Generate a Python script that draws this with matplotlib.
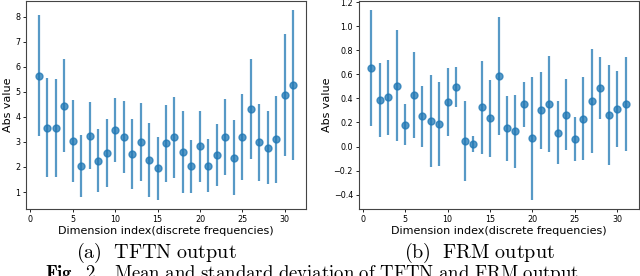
#!/usr/bin/env python3
"""Mean/std of TFTN and FRM outputs per dimension index."""

import matplotlib

matplotlib.use("Agg")
import matplotlib.pyplot as plt

dims = list(range(1, 32))

tftn_mean = [5.65, 3.57, 3.57, 4.45, 3.05, 2.05, 3.25, 2.25, 2.57, 3.47, 3.20,
             2.52, 3.00, 2.28, 1.95, 2.95, 3.18, 2.60, 2.02, 2.82, 2.05, 2.47,
             3.20, 2.37, 3.20, 4.32, 2.98, 2.77, 3.10, 4.87, 5.27]
tftn_std = [2.40, 1.97, 1.95, 1.85, 1.63, 1.24, 1.35, 1.25, 1.35, 1.28, 1.45,
            1.38, 1.57, 1.48, 1.25, 1.53, 1.60, 1.65, 1.05, 1.41, 1.05, 1.24,
            1.50, 1.50, 1.70, 2.00, 1.53, 1.45, 1.72, 2.45, 2.98]

frm_mean = [0.65, 0.385, 0.41, 0.505, 0.18, 0.43, 0.25, 0.21, 0.185, 0.37, 0.495,
            0.047, 0.02, 0.325, 0.235, 0.585, 0.15, 0.125, 0.35, 0.07, 0.30,
            0.355, 0.115, 0.265, 0.063, 0.23, 0.38, 0.485, 0.26, 0.31, 0.35]
frm_std = [0.48, 0.305, 0.31, 0.46, 0.17, 0.355, 0.25, 0.38, 0.35, 0.28, 0.165,
           0.335, 0.068, 0.385, 0.32, 0.49, 0.27, 0.30, 0.19, 0.51, 0.32,
           0.40, 0.26, 0.295, 0.18, 0.345, 0.43, 0.255, 0.415, 0.315, 0.39]

xlabel = "Dimension index(discrete frequencies)"
ylabel = "Abs value"
captions = [r"$\mathrm{(a)\ \ TFTN\ output}$", r"$\mathrm{(b)\ \ FRM\ output}$"]
fig_caption = r"$\mathbf{Fig.\ 2.}$" + r"$\mathrm{\ \ Mean\ and\ standard\ deviation\ of\ TFTN\ and\ FRM\ output}$"

W, H = 640, 276


def px_axes(fig, left, top, right, bottom):
    return fig.add_axes([left / W, 1 - bottom / H, (right - left) / W, (bottom - top) / H])


def draw(ax, mean, std, ylab_x):
    ax.errorbar(dims, mean, yerr=std, fmt="o", color="#1f77b4",
                ecolor="#1f77b4", elinewidth=1.6, markersize=5, alpha=0.75)
    ax.set_xticks([0, 5, 10, 15, 20, 25, 30])
    ax.tick_params(labelsize=5.8, length=2.5, width=0.6, pad=1.5)
    for s in ax.spines.values():
        s.set_linewidth(0.8)
        s.set_color("#444444")
    ax.set_xlabel(xlabel, fontsize=8, va="center")
    ax.xaxis.set_label_coords(0.5, -0.106)
    ax.set_ylabel(ylabel, fontsize=8, va="center")
    ax.yaxis.set_label_coords(ylab_x, 0.5)


def main() -> int:
    plt.rcParams["mathtext.fontset"] = "cm"
    fig = plt.figure(figsize=(W / 100, H / 100), dpi=100)

    ax_a = px_axes(fig, 26, 1, 306, 209)
    draw(ax_a, tftn_mean, tftn_std, -0.064)

    ax_b = px_axes(fig, 358.5, 1, 638.5, 209)
    draw(ax_b, frm_mean, frm_std, -0.112)

    fig.text(156 / W, 1 - 253 / H, captions[0], fontsize=14.5, ha="center", va="center")
    fig.text(479 / W, 1 - 253 / H, captions[1], fontsize=14.5, ha="center", va="center")
    fig.text(312 / W, -3 / H, fig_caption, fontsize=13.5, ha="center", va="baseline")

    fig.savefig("out.png", dpi=100)
    return 0


if __name__ == "__main__":
    raise SystemExit(main())
